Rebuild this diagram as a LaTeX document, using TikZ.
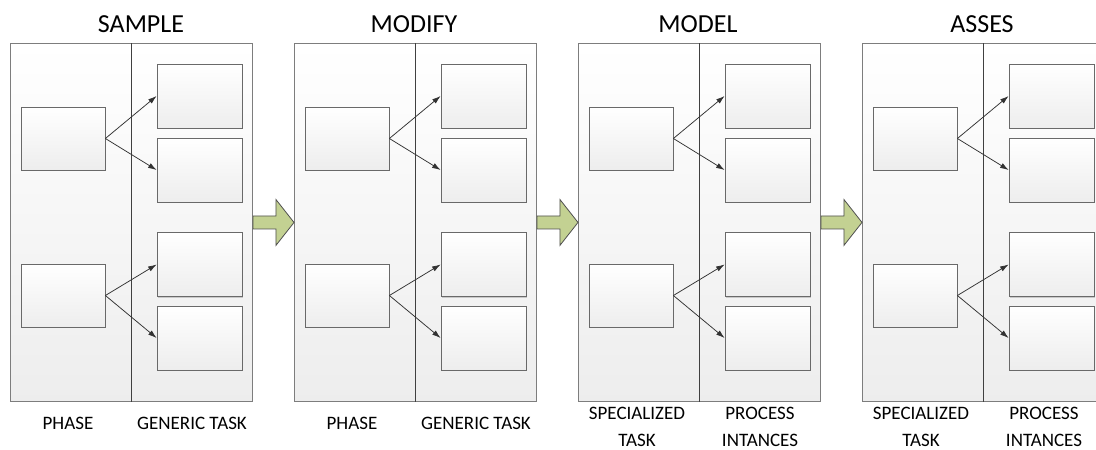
\documentclass[tikz,border=0pt]{standalone}
\usepackage{fontspec}
\setmainfont{Carlito}
\usetikzlibrary{arrows.meta,shadows,calc}
\definecolor{panelline}{RGB}{125,125,125}
\definecolor{boxline}{RGB}{105,105,105}
\definecolor{linkline}{RGB}{50,50,50}
\definecolor{flowfill}{RGB}{195,209,146}
\definecolor{flowline}{RGB}{80,80,80}
\begin{document}
\begin{tikzpicture}[x=1pt,y=-1pt,
  panel/.style={draw=panelline, line width=0.9pt, top color=white, bottom color=black!7,
    minimum width=242pt, minimum height=358pt, inner sep=0pt, anchor=north west,
    drop shadow={shadow xshift=1pt, shadow yshift=-1pt, fill=black!40, opacity=0.45}},
  taskbox/.style={draw=boxline, line width=0.8pt, top color=white, bottom color=black!7,
    minimum width=84pt, minimum height=63pt, inner sep=0pt,
    drop shadow={shadow xshift=1.2pt, shadow yshift=-1.2pt, fill=black!40, opacity=0.45}},
  subbox/.style={taskbox, minimum width=85pt, minimum height=64pt},
  divider/.style={draw=black!75, line width=0.8pt},
  link/.style={draw=linkline, line width=0.75pt, -{Latex[length=8.5pt,width=5.5pt]}},
  flow/.style={draw=flowline, line width=0.8pt, fill=flowfill, line join=miter},
  title/.style={font=\fontsize{26}{30}\selectfont, inner sep=0pt},
  caption/.style={font=\fontsize{19}{27}\selectfont, align=center, inner sep=0pt}
]
\clip (0,0) rectangle (1096,450);
\fill[white] (0,0) rectangle (1096,450);

% four stages, each a panel with two columns
\foreach \i/\px in {1/10, 2/294, 3/578, 4/862} {
  \node[panel] (p\i) at (\px,43) {};
  \draw[divider] ($(p\i.north west)+(121,0)$) coordinate (d\i t) -- ($(p\i.south west)+(121,0)$) coordinate (d\i b);
  % phase / specialized task boxes
  \node[taskbox] (a\i) at (\px+53,138.5) {};
  \node[taskbox] (b\i) at (\px+53,295.5) {};
  % generic task / process instance boxes
  \node[subbox] (a\i u) at (\px+189.5,96) {};
  \node[subbox] (a\i l) at (\px+189.5,170) {};
  \node[subbox] (b\i u) at (\px+189.5,264.5) {};
  \node[subbox] (b\i l) at (\px+189.5,338) {};
  \draw[link] (a\i.east) -- (a\i u.west);
  \draw[link] (a\i.east) -- (a\i l.west);
  \draw[link] (b\i.east) -- (b\i u.west);
  \draw[link] (b\i.east) -- (b\i l.west);
}

% block arrows between stages
\foreach \i/\j in {1/2, 2/3, 3/4} {
  \draw[flow] ($(p\i.east)+(0,-6.5)$) -- ++(23,0) -- ++(0,-16.5) -- (p\j.west)
    -- ($(p\i.east)+(23,23)$) -- ($(p\i.east)+(23,6.5)$) -- ($(p\i.east)+(0,6.5)$) -- cycle;
}

% stage titles
\node[title] (t1) at (141,24) {SAMPLE};
\node[title] (t2) at (414,24) {MODIFY};
\node[title] (t3) at (698,24) {MODEL};
\node[title] (t4) at (982,24) {ASSES};

% column captions
\node[caption] (c1l) at (68,423) {PHASE};
\node[caption] (c1r) at (192,423) {GENERIC TASK};
\node[caption] (c2l) at (352,423) {PHASE};
\node[caption] (c2r) at (476,423) {GENERIC TASK};
\node[caption] (c3l) at (637,426.5) {SPECIALIZED\\TASK};
\node[caption] (c3r) at (760,426.5) {PROCESS\\INTANCES};
\node[caption] (c4l) at (921,426.5) {SPECIALIZED\\TASK};
\node[caption] (c4r) at (1044,426.5) {PROCESS\\INTANCES};
\end{tikzpicture}
\end{document}
